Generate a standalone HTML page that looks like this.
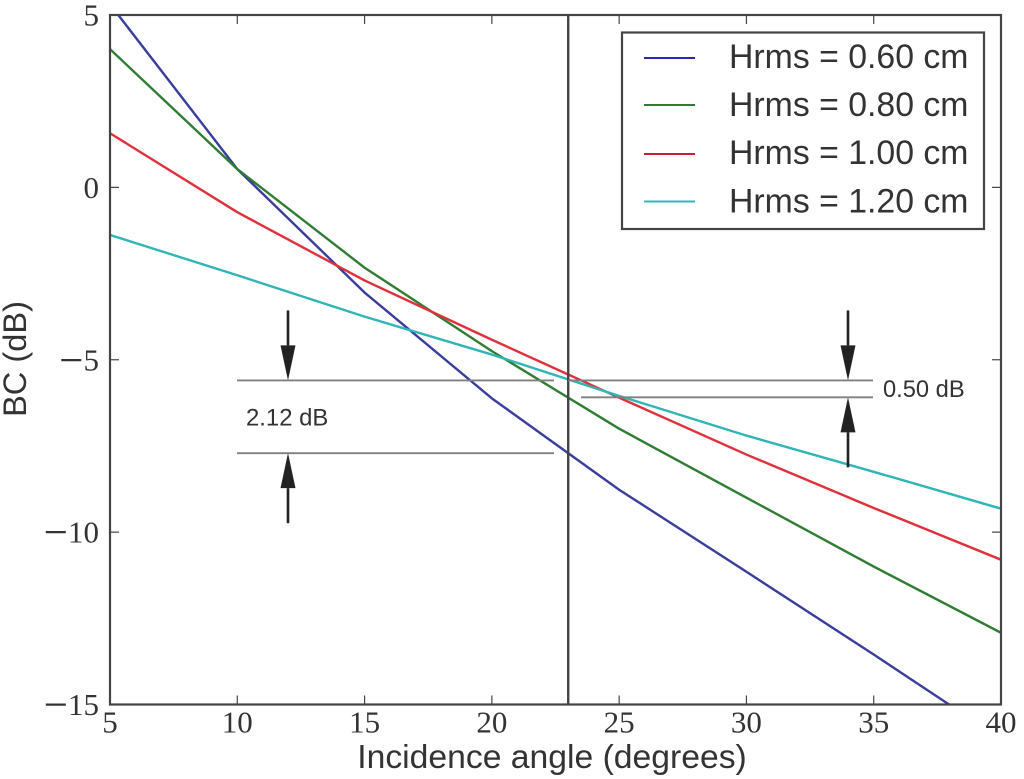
<!DOCTYPE html>
<html>
<head>
<meta charset="utf-8">
<title>BC vs incidence angle</title>
<style>
html,body{margin:0;padding:0;background:#fff;}
svg{display:block;filter:blur(0.35px);}
text{fill:#333;}
.tick{font-family:"Liberation Serif",serif;font-size:31px;}
.sans{font-family:"Liberation Sans",sans-serif;}
</style>
</head>
<body>
<svg id="chart" width="1024" height="779" viewBox="0 0 1024 779" xmlns="http://www.w3.org/2000/svg">
  <rect x="110" y="15" width="891" height="689.5" fill="#fff"/>
  <g id="ticks"></g>
  <g id="series"></g>
  <g id="annotations"></g>
  <rect x="110" y="15" width="891" height="689.5" fill="none" stroke="#444" stroke-width="2.2"/>
  <g id="legend">
    <rect x="622" y="32.5" width="362" height="196.5" fill="#fff" stroke="#444" stroke-width="2.2"/>
  </g>
  <text class="sans" x="552" y="768" text-anchor="middle" font-size="33.7">Incidence angle (degrees)</text>
  <text class="sans" transform="translate(26,359) rotate(-90)" text-anchor="middle" font-size="32.6">BC (dB)</text>
</svg>
<script>
const angles = [5, 10, 15, 20, 25, 30, 35, 40];
const hrms060 = [5.31, 0.53, -3.05, -6.12, -8.77, -11.15, -13.55, -16.0];
const hrms080 = [4.01, 0.53, -2.33, -4.75, -7.0, -9.0, -11.0, -12.92];
const hrms100 = [1.57, -0.72, -2.7, -4.42, -6.1, -7.75, -9.3, -10.8];
const hrms120 = [-1.38, -2.55, -3.75, -4.85, -6.05, -7.2, -8.25, -9.32];
const seriesNames = ["0.60", "0.80", "1.00", "1.20"];
const xTicks = [5, 10, 15, 20, 25, 30, 35, 40];
const yTicks = [5, 0, -5, -10, -15];
const markerAngle = [23];
const upperLevel = [-5.6];
const lowerLevelLeft = [-7.71];
const lowerLevelRight = [-6.09];
const leftGapLabel = ["2.12 dB"];
const rightGapLabel = ["0.50 dB"];

const NS = "http://www.w3.org/2000/svg";
const allSeries = [hrms060, hrms080, hrms100, hrms120];
const seriesColors = ["#3a3d9c", "#2f7d32", "#e0303c", "#2fb5b5"];
const legendColors = ["#2a2aa8", "#2f7d32", "#c4203a", "#30b8b8"];
const X0 = 110, X1 = 1001, Y0 = 15, Y1 = 704.5;
const xMin = 5, xMax = 40, yMax = 5, yMin = -15;
function sx(v) { return X0 + (v - xMin) * (X1 - X0) / (xMax - xMin); }
function sy(v) { return Y0 + (yMax - v) * (Y1 - Y0) / (yMax - yMin); }
function make(tag, attrs, parent, text) {
  const el = document.createElementNS(NS, tag);
  for (const k in attrs) el.setAttribute(k, attrs[k]);
  if (text !== undefined) el.textContent = text;
  parent.appendChild(el);
  return el;
}
const ticksG = document.getElementById("ticks");
const seriesG = document.getElementById("series");
const annG = document.getElementById("annotations");
const legendG = document.getElementById("legend");

xTicks.forEach(function (t) {
  const x = sx(t);
  const bottom = make("line", {x1: x, x2: x, y1: Y1, y2: Y1 - 9, stroke: "#444", "stroke-width": 1.2}, ticksG);
  
  
  const top = make("line", {x1: x, x2: x, y1: Y0, y2: Y0 + 9, stroke: "#444", "stroke-width": 1.2}, ticksG);
  
  
  const label = make("text", {x: x, y: 732.5, "text-anchor": "middle", class: "tick"}, ticksG, String(t));
  
  
});
yTicks.forEach(function (t) {
  const y = sy(t);
  const left = make("line", {x1: X0, x2: X0 + 9, y1: y, y2: y, stroke: "#444", "stroke-width": 1.2}, ticksG);
  
  
  const right = make("line", {x1: X1, x2: X1 - 9, y1: y, y2: y, stroke: "#444", "stroke-width": 1.2}, ticksG);
  
  
  const label = make("text", {x: 99, y: y + 10.5, "text-anchor": "end", class: "tick"}, ticksG);
  
  
  if (t < 0) {
    make("tspan", {"font-size": 43, dy: 4}, label, "\u2212");
    make("tspan", {dy: -4}, label, String(Math.abs(t)));
  } else {
    make("tspan", {}, label, String(Math.abs(t)));
  }
});

const clip = make("clipPath", {id: "plot-clip"}, seriesG);
make("rect", {x: X0, y: Y0, width: X1 - X0, height: Y1 - Y0}, clip);
allSeries.forEach(function (vals, i) {
  const pts = vals.map(function (v, j) { return sx(angles[j]).toFixed(2) + "," + sy(v).toFixed(2); }).join(" ");
  const line = make("polyline", {points: pts, fill: "none", stroke: seriesColors[i], "stroke-width": 2.4, "stroke-linejoin": "round", "clip-path": "url(#plot-clip)"}, seriesG);
  
  
});

const markerLine = make("line", {x1: sx(markerAngle[0]), x2: sx(markerAngle[0]), y1: Y0, y2: Y1, stroke: "#444", "stroke-width": 2.4}, annG);



function hline(x1, x2, v, name) {
  const l = make("line", {x1: x1, x2: x2, y1: sy(v), y2: sy(v), stroke: "#808080", "stroke-width": 1.8}, annG);
  
  
}
hline(237, 554, upperLevel[0], 'left-upper-level-line');
hline(237, 554, lowerLevelLeft[0], 'left-lower-level-line');
hline(sx(markerAngle[0]), 873, upperLevel[0], 'right-upper-level-line');
hline(581, 873, lowerLevelRight[0], 'right-lower-level-line');

function arrow(x, tipY, dir, name) {
  const tail = tipY + dir * 70, base = tipY + dir * 35;
  const g = make("g", {}, annG);
  
  
  make("line", {x1: x, x2: x, y1: tail, y2: base, stroke: "#222", "stroke-width": 2.6}, g);
  make("polygon", {points: (x - 7.5) + "," + base + " " + (x + 7.5) + "," + base + " " + x + "," + tipY, fill: "#222"}, g);
}
arrow(288, sy(upperLevel[0]), -1, 'left-down-arrow');
arrow(288, sy(lowerLevelLeft[0]), 1, 'left-up-arrow');
arrow(848, sy(upperLevel[0]), -1, 'right-down-arrow');
arrow(848, sy(lowerLevelRight[0]), 1, 'right-up-arrow');

const leftLabel = make("text", {x: 246, y: 425.5, class: "sans", "font-size": 23.9}, annG, leftGapLabel[0]);


const rightLabel = make("text", {x: 883, y: 397, class: "sans", "font-size": 23.7}, annG, rightGapLabel[0]);



const legendLineY = [58, 105, 154, 201.5];
const legendTextY = [68, 116, 164, 212.5];
seriesNames.forEach(function (n, i) {
  const g = make("g", {}, legendG);
  
  
  make("line", {x1: 644, x2: 695, y1: legendLineY[i], y2: legendLineY[i], stroke: legendColors[i], "stroke-width": 2}, g);
  make("text", {x: 729, y: legendTextY[i], class: "sans", "font-size": 33.8}, g, "Hrms = " + n + " cm");
});
</script>
</body>
</html>
